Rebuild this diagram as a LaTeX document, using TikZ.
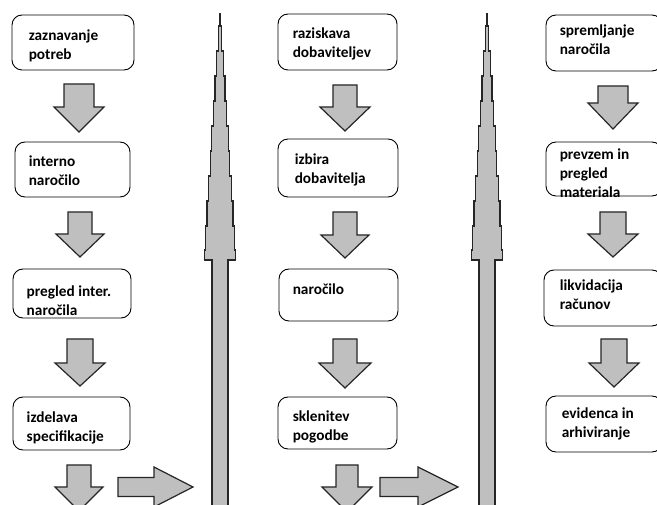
\documentclass[tikz,border=0pt]{standalone}
\usepackage{fontspec}
\setmainfont{Carlito}
\usetikzlibrary{fit}
\tikzset{
  box/.style={draw=black, line width=0.9, rounded corners=10, fill=white, inner sep=0},
  lbl/.style={anchor=north west, align=left, inner sep=0, font=\bfseries\fontsize{15.3}{19}\selectfont, text=black},
  blk/.style={draw=black!85, fill=black!25, line width=1.2, line join=miter},
}
% down block arrow: cx, top, tip, shaft half width, head y, head half width
\newcommand\dnarr[6]{%
  \draw[blk] ({#1-#4},#2) -- ({#1+#4},#2) -- ({#1+#4},#5) -- ({#1+#6},#5) -- (#1,#3)
    -- ({#1-#6},#5) -- ({#1-#4},#5) -- cycle;}
% right block arrow: x0, head x, tip x, cy, shaft half, head half
\newcommand\rtarr[6]{%
  \draw[blk] (#1,{#4-#5}) -- (#2,{#4-#5}) -- (#2,{#4-#6}) -- (#3,#4) -- (#2,{#4+#6})
    -- (#2,{#4+#5}) -- (#1,{#4+#5}) -- cycle;}
% tall stepped up arrow, local coordinates about its centre line
\newcommand\tallarr{%
  \draw[blk] (-0.8,14) -- (-0.8,26) -- (-1.8,26) -- (-1.8,51) -- (-3.3,51) -- (-3.3,76)
    -- (-5,76) -- (-5,101) -- (-6.6,101) -- (-6.6,126) -- (-8.2,126) -- (-8.2,151)
    -- (-9.8,151) -- (-9.8,176) -- (-11.4,176) -- (-11.4,201) -- (-13,201) -- (-13,226)
    -- (-14.4,226) -- (-14.4,250) -- (-15.8,250) -- (-15.8,260) -- (-8,260) -- (-8,520)
    -- (8,520) -- (8,260) -- (15.8,260) -- (15.8,250) -- (14.4,250) -- (14.4,226)
    -- (13,226) -- (13,201) -- (11.4,201) -- (11.4,176) -- (9.8,176) -- (9.8,151)
    -- (8.2,151) -- (8.2,126) -- (6.6,126) -- (6.6,101) -- (5,101) -- (5,76)
    -- (3.3,76) -- (3.3,51) -- (1.8,51) -- (1.8,26) -- (0.8,26) -- (0.8,14) -- cycle;}
\begin{document}
\begin{tikzpicture}[x=1pt,y=-1pt]
\useasboundingbox (0,0) rectangle (657,505);
\clip (0,0) rectangle (657,505);
\fill[white] (0,0) rectangle (657,505);
% column 1
\node[box, fit={(12,15) (134,70)}] (b1) {};
\node[lbl] (b1t) at ([xshift=17,yshift=-12]b1.north west) {\strut zaznavanje\\potreb};
\node[box, fit={(15,142) (130,197)}] (b2) {};
\node[lbl] (b2t) at ([xshift=14,yshift=-11]b2.north west) {\strut interno\\naročilo};
\node[box, fit={(13,269) (131,318)}] (b3) {};
\node[lbl] (b3t) at ([xshift=14,yshift=-14]b3.north west) {\strut pregled inter.\\naročila};
\node[box, fit={(13,397) (130,450)}] (b4) {};
\node[lbl] (b4t) at ([xshift=14,yshift=-12]b4.north west) {\strut izdelava\\specifikacije};
% column 2
\node[box, fit={(278,14) (397,70)}] (r1) {};
\node[lbl] (r1t) at ([xshift=15,yshift=-11]r1.north west) {\strut raziskava\\dobaviteljev};
\node[box, fit={(278,139) (398,197)}] (r2) {};
\node[lbl] (r2t) at ([xshift=17,yshift=-12]r2.north west) {\strut izbira\\dobavitelja};
\node[box, fit={(279,269) (398,321)}] (r3) {};
\node[lbl] (r3t) at ([xshift=14,yshift=-12]r3.north west) {\strut naročilo};
\node[box, fit={(278,397) (397,449)}] (r4) {};
\node[lbl] (r4t) at ([xshift=15,yshift=-11]r4.north west) {\strut sklenitev\\pogodbe};
% column 3
\node[box, fit={(546,15) (662,71)}] (s1) {};
\node[lbl] (s1t) at ([xshift=14,yshift=-7]s1.north west) {\strut spremljanje\\naročila};
\node[box, fit={(546,142) (662,196)}] (s2) {};
\node[lbl] (s2t) at ([xshift=14,yshift=-4]s2.north west) {\strut prevzem in\\pregled\\materiala};
\node[box, fit={(544,270) (662,326)}] (s3) {};
\node[lbl] (s3t) at ([xshift=16,yshift=-7]s3.north west) {\strut likvidacija\\računov};
\node[box, fit={(546,396) (662,452)}] (s4) {};
\node[lbl] (s4t) at ([xshift=16,yshift=-9]s4.north west) {\strut evidenca in\\arhiviranje};
% down arrows: cx, top, tip, shaft hw, head y, head hw
\dnarr{79}{84}{132}{15}{107}{25}
\dnarr{80}{212}{257}{12}{234}{24}
\dnarr{80}{339}{386}{13}{363}{25}
\dnarr{79}{465}{511}{12}{487}{24}
\dnarr{345}{85}{131}{12}{107}{25}
\dnarr{345}{212}{258}{12}{235}{24}
\dnarr{345}{339}{388}{12}{363}{26}
\dnarr{347}{465}{512}{11}{487}{25}
\dnarr{613}{86}{129}{15}{103}{25}
\dnarr{613}{212}{257}{13}{234}{25}
\dnarr{614}{339}{387}{13}{363}{25}
% right arrows
\rtarr{118}{154}{193}{487}{9.5}{20}
\rtarr{380}{418}{458}{487}{9.5}{20}
% tall up arrows
\begin{scope}[shift={(220,0)}]\tallarr\end{scope}
\begin{scope}[shift={(487,0)}]\tallarr\end{scope}
\end{tikzpicture}
\end{document}
